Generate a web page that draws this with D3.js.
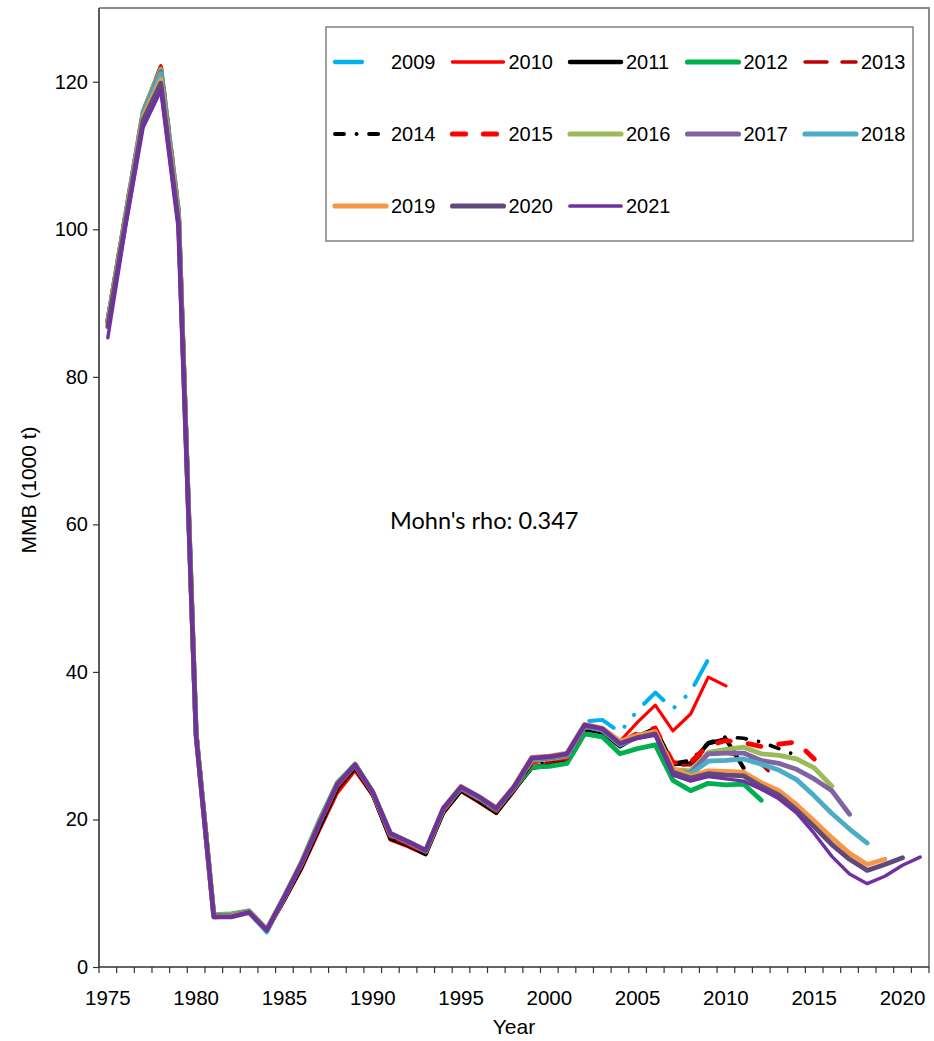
<!DOCTYPE html>
<html>
<head>
<meta charset="utf-8">
<script src="https://cdn.jsdelivr.net/npm/d3@7/dist/d3.min.js"></script>
<style>
  body { margin: 0; background: #fff; }
  svg { display: block; }
  text { font-family: "Liberation Sans", Arial, sans-serif; fill: #000; }
</style>
</head>
<body>
<svg id="chart" width="934" height="1041"></svg>
<script>
// Retrospective runs of mature male biomass (1000 t), one run per terminal year.
const years = [1975,1976,1977,1978,1979,1980,1981,1982,1983,1984,1985,1986,1987,1988,1989,1990,
  1991,1992,1993,1994,1995,1996,1997,1998,1999,2000,2001,2002,2003,2004,2005,2006,2007,2008,2009,
  2010,2011,2012,2013,2014,2015,2016,2017,2018,2019,2020,2021];

const run2009 = [87.8,102.0,116.0,122.0,102.6,31.8,6.9,6.9,7.3,4.7,9.3,13.8,19.0,24.2,27.0,23.4,17.6,16.6,15.4,21.0,24.0,22.6,21.0,24.0,27.3,27.6,28.0,
  33.3,33.5,31.8,34.8,37.2,35.0,37.3,41.7];
const run2010 = [87.6,101.8,115.9,122.2,102.5,31.6,6.9,6.9,7.4,4.9,9.0,13.4,18.6,23.6,26.6,23.2,17.2,16.3,15.2,20.8,23.8,22.3,20.8,23.8,27.2,27.5,28.0,
  32.6,32.1,30.6,33.2,35.5,32.0,34.3,39.3,38.1];
const run2011 = [87.5,101.7,115.7,121.8,102.4,31.6,6.9,7.0,7.4,4.9,9.2,13.7,19.0,24.2,27.0,23.4,17.4,16.5,15.3,21.0,23.9,22.5,20.9,24.0,27.0,27.3,27.8,
  32.2,31.8,29.9,31.3,32.3,27.5,27.6,30.3,30.9,27.0];
const run2012 = [87.6,101.8,115.9,121.9,102.5,31.7,7.1,7.2,7.6,5.1,9.6,14.4,20.0,25.0,27.5,23.7,17.8,16.8,15.6,21.3,24.2,22.8,21.2,24.2,27.1,27.2,27.6,
  31.6,31.2,28.9,29.6,30.1,25.3,23.9,24.9,24.7,24.8,22.6];
const run2013 = [87.6,101.8,115.8,121.9,102.4,31.6,7.0,7.0,7.5,5.0,9.4,14.0,19.4,24.5,27.2,23.5,17.6,16.6,15.4,21.2,24.1,22.7,21.1,24.1,27.5,27.8,28.2,
  32.4,32.0,30.0,31.4,32.0,27.3,27.4,29.4,29.0,28.6,27.5,25.2];
const run2014 = [87.5,101.7,115.8,121.8,102.3,31.6,7.0,7.0,7.5,5.0,9.4,14.0,19.4,24.5,27.2,23.5,17.7,16.7,15.5,21.2,24.1,22.7,21.2,24.1,27.6,27.9,28.3,
  32.5,32.1,30.1,31.5,32.1,27.6,28.0,30.4,31.2,31.0,30.5,29.6,28.7];
const run2015 = [87.6,101.8,115.9,121.9,102.4,31.6,7.0,7.0,7.5,5.0,9.4,14.1,19.5,24.6,27.3,23.6,17.8,16.8,15.6,21.3,24.2,22.8,21.3,24.2,27.8,28.0,28.4,
  32.6,32.2,30.3,31.7,32.4,27.7,27.8,30.0,30.7,30.4,29.9,30.2,30.5,28.2];
const run2016 = [87.7,101.9,116.0,121.7,102.4,31.7,7.1,7.1,7.6,5.1,9.6,14.3,19.8,24.9,27.5,23.7,18.0,16.9,15.7,21.4,24.3,22.9,21.4,24.3,28.0,28.2,28.6,
  32.6,32.1,30.2,31.3,31.9,26.8,26.6,29.1,29.5,29.8,28.9,28.7,28.2,27.0,24.5];
const run2017 = [87.5,101.6,115.7,121.4,102.2,31.6,7.0,7.0,7.5,5.0,9.5,14.2,19.7,24.8,27.4,23.7,18.0,16.9,15.7,21.4,24.3,22.9,21.4,24.3,28.1,28.3,28.7,
  32.6,32.1,30.1,31.2,31.7,26.5,26.3,28.9,29.0,29.0,28.0,27.6,26.8,25.5,23.9,20.7];
const run2018 = [87.4,101.5,115.6,121.1,102.0,31.5,6.9,6.9,7.4,4.9,9.5,14.2,19.7,24.8,27.4,23.7,18.1,17.0,15.8,21.5,24.4,23.0,21.5,24.4,28.2,28.4,28.8,
  32.7,32.2,30.2,31.1,31.6,26.6,26.2,27.9,28.0,28.2,27.5,26.7,25.4,23.2,20.8,18.7,16.8];
const run2019 = [87.2,101.2,115.2,120.3,101.6,31.4,6.8,6.9,7.4,5.0,9.5,14.2,19.7,24.8,27.4,23.7,18.1,17.0,15.8,21.5,24.5,23.1,21.6,24.5,28.4,28.6,29.0,
  32.9,32.4,30.6,31.4,31.9,26.9,25.9,26.6,26.5,26.4,25.0,23.9,22.0,19.8,17.5,15.4,13.9,14.6];
const run2020 = [86.8,100.9,114.8,119.8,101.0,31.3,6.8,6.8,7.4,5.0,9.5,14.2,19.6,24.8,27.4,23.7,18.1,17.0,15.8,21.5,24.4,23.1,21.5,24.4,28.3,28.5,28.9,
  32.8,32.3,30.3,31.1,31.6,26.4,25.6,26.2,26.0,25.9,24.5,23.3,21.3,19.0,16.6,14.6,13.1,13.9,14.8];
const run2021 = [85.3,100.2,113.8,118.8,99.8,31.2,6.7,6.8,7.4,5.0,9.5,14.2,19.6,24.8,27.4,23.7,18.1,17.0,15.8,21.5,24.4,23.1,21.5,24.4,28.3,28.5,28.9,
  32.8,32.3,30.3,31.0,31.4,26.0,25.2,25.8,25.5,25.2,24.1,22.8,20.9,18.1,15.0,12.6,11.3,12.3,13.8,14.9];

const seriesNames = ["2009","2010","2011","2012","2013","2014","2015","2016","2017","2018","2019","2020","2021"];
const seriesValues = [run2009,run2010,run2011,run2012,run2013,run2014,run2015,run2016,run2017,run2018,run2019,run2020,run2021];

const yTickValues = [0,20,40,60,80,100,120];
const xTickLabels = [1975,1980,1985,1990,1995,2000,2005,2010,2015,2020];
const mohnsRho = "0.347";

// Line styling per run (legendDash overrides the pattern in the key where needed)
const seriesStyle = {
  "2009": { color: "#00B0F0", width: 4,   dash: "27,15,0.1,15,0.1,15", legendDash: "27,40" },
  "2010": { color: "#FF0000", width: 3.2, dash: null },
  "2011": { color: "#000000", width: 4.2, dash: null },
  "2012": { color: "#00B050", width: 4.8, dash: null },
  "2013": { color: "#C00000", width: 3.2, dash: "22,15" },
  "2014": { color: "#000000", width: 3.6, dash: "9,12.5,0.1,12.5" },
  "2015": { color: "#FF0000", width: 4.8, dash: "13,18" },
  "2016": { color: "#9BBB59", width: 4.8, dash: null },
  "2017": { color: "#8064A2", width: 4.8, dash: null },
  "2018": { color: "#4BACC6", width: 4.8, dash: null },
  "2019": { color: "#F79646", width: 4.8, dash: null },
  "2020": { color: "#604A7B", width: 4.8, dash: null },
  "2021": { color: "#7030A0", width: 3.4, dash: null }
};

const svg = d3.select("#chart");
const plot = { left: 99, right: 929, top: 8, bottom: 967 };

const x = d3.scaleBand().domain(years).range([plot.left, plot.right]).padding(0);
const y = d3.scaleLinear().domain([0, 130]).range([plot.bottom, plot.top]);
const cx = yr => x(yr) + x.bandwidth() / 2;

// Plot frame (top and right edges)
svg.append("path")
  .attr("d", `M${plot.left},${plot.top}H${plot.right}V${plot.bottom}`)
  .attr("fill", "none").attr("stroke", "#8c8c8c").attr("stroke-width", 2);

// Lines
const line = d3.line()
  .x((d, i) => cx(years[i]))
  .y(d => y(d));

const linesG = svg.append("g");
seriesNames.forEach((name, k) => {
  const s = seriesStyle[name];
  linesG.append("path")
    .datum(seriesValues[k])
    .attr("d", line)
    .attr("fill", "none")
    .attr("stroke", s.color)
    .attr("stroke-width", s.width)
    .attr("stroke-linejoin", "round")
    .attr("stroke-linecap", "round")
    .attr("stroke-dasharray", s.dash);
});

// Y axis
const yAxis = svg.append("g")
  .attr("transform", `translate(${plot.left},0)`)
  .call(d3.axisLeft(y).tickValues(yTickValues).tickSize(6).tickPadding(5).tickSizeOuter(0));
yAxis.select(".domain").attr("stroke", "#333").attr("stroke-width", 1.6)
  .attr("d", `M0,${plot.top}V${plot.bottom}`);
yAxis.selectAll(".tick line").attr("stroke", "#333").attr("stroke-width", 1.2);
yAxis.selectAll(".tick text").style("font-size", "20px").attr("fill", "#000");

// X axis: labels every fifth year, tick marks between categories
const xAxis = svg.append("g")
  .attr("transform", `translate(0,${plot.bottom})`)
  .call(d3.axisBottom(x).tickValues(xTickLabels).tickSize(0).tickPadding(23));
xAxis.select(".domain").attr("stroke", "#333").attr("stroke-width", 1.6)
  .attr("d", `M${plot.left},0H${plot.right}`);
xAxis.selectAll(".tick text").style("font-size", "20.5px").attr("fill", "#000");
xAxis.selectAll("line.between")
  .data(years.concat([null]))
  .enter().append("line")
  .attr("class", "between")
  .attr("x1", d => d === null ? plot.right : x(d))
  .attr("x2", d => d === null ? plot.right : x(d))
  .attr("y1", 0).attr("y2", 6)
  .attr("stroke", "#333").attr("stroke-width", 1.2);

// Axis titles
svg.append("text")
  .attr("x", (plot.left + plot.right) / 2).attr("y", 1034)
  .attr("text-anchor", "middle").style("font-size", "21px")
  .text("Year");
svg.append("text")
  .attr("transform", `translate(36,490) rotate(-90)`)
  .attr("text-anchor", "middle").style("font-size", "21px")
  .text("MMB (1000 t)");

// Annotation
svg.append("text")
  .attr("x", 390).attr("y", 529)
  .style("font-family", "Lato, 'Open Sans', sans-serif")
  .style("font-size", "23.5px")
  .text("Mohn's rho: " + mohnsRho);

// Legend
const legend = svg.append("g");
legend.append("rect")
  .attr("x", 326).attr("y", 27).attr("width", 587).attr("height", 214)
  .attr("fill", "#fff").attr("stroke", "#808080").attr("stroke-width", 1.5);
const colStep = 117.5, rowStep = 72;
seriesNames.forEach((name, k) => {
  const s = seriesStyle[name];
  const col = k % 5, row = Math.floor(k / 5);
  const x0 = 333 + col * colStep, y0 = 62 + row * rowStep;
  legend.append("line")
    .attr("x1", x0 + 2).attr("x2", x0 + 53).attr("y1", y0).attr("y2", y0)
    .attr("stroke", s.color).attr("stroke-width", s.width + 0.3)
    .attr("stroke-linecap", "round")
    .attr("stroke-dasharray", s.legendDash || s.dash);
  legend.append("text")
    .attr("x", x0 + 58).attr("y", y0 + 7)
    .style("font-size", "20px")
    .text(name);
});
</script>
</body>
</html>
